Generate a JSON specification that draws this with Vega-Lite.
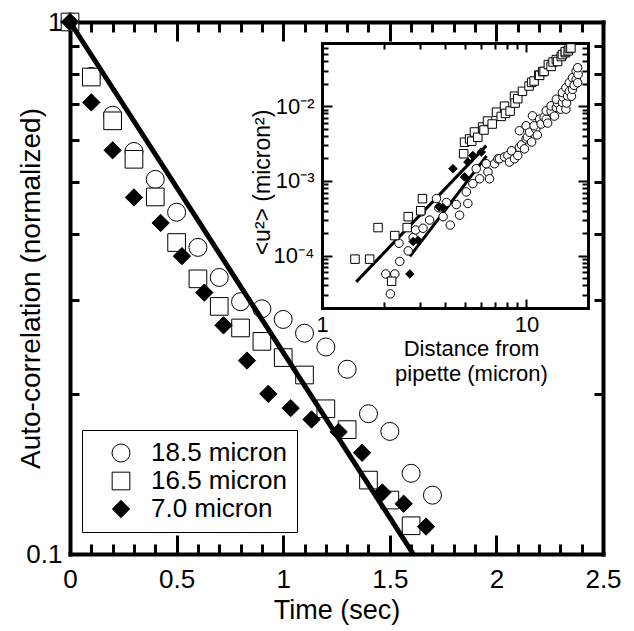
{
  "$schema": "https://vega.github.io/schema/vega-lite/v6.json",
  "width": 533,
  "height": 532,
  "autosize": "none",
  "padding": {"left": 70, "top": 22, "right": 31, "bottom": 77},
  "background": "white",
  "config": {
    "view": {"stroke": null},
    "font": "Liberation Sans",
    "axis": {
      "grid": false,
      "domainColor": "black",
      "domainWidth": 4,
      "domainCap": "square",
      "tickColor": "black",
      "tickWidth": 3,
      "labelColor": "black",
      "labelFont": "Liberation Sans",
      "labelFontSize": 26,
      "labelFlush": false,
      "labelOverlap": false,
      "titleColor": "black",
      "titleFont": "Liberation Sans",
      "titleFontSize": 27,
      "titleFontWeight": "normal"
    }
  },
  "datasets": {
    "main": [
      {"series": "18.5 micron", "t": 0, "v": 1},
      {"series": "18.5 micron", "t": 0.1, "v": 0.79},
      {"series": "18.5 micron", "t": 0.2, "v": 0.668},
      {"series": "18.5 micron", "t": 0.3, "v": 0.571},
      {"series": "18.5 micron", "t": 0.4, "v": 0.506},
      {"series": "18.5 micron", "t": 0.5, "v": 0.439},
      {"series": "18.5 micron", "t": 0.6, "v": 0.377},
      {"series": "18.5 micron", "t": 0.7, "v": 0.331},
      {"series": "18.5 micron", "t": 0.8, "v": 0.298},
      {"series": "18.5 micron", "t": 0.9, "v": 0.289},
      {"series": "18.5 micron", "t": 1.0, "v": 0.276},
      {"series": "18.5 micron", "t": 1.1, "v": 0.26},
      {"series": "18.5 micron", "t": 1.2, "v": 0.245},
      {"series": "18.5 micron", "t": 1.3, "v": 0.2225},
      {"series": "18.5 micron", "t": 1.4, "v": 0.1835},
      {"series": "18.5 micron", "t": 1.5, "v": 0.17},
      {"series": "18.5 micron", "t": 1.6, "v": 0.1418},
      {"series": "18.5 micron", "t": 1.7, "v": 0.129},
      {"series": "16.5 micron", "t": 0, "v": 1},
      {"series": "16.5 micron", "t": 0.1, "v": 0.788},
      {"series": "16.5 micron", "t": 0.2, "v": 0.652},
      {"series": "16.5 micron", "t": 0.3, "v": 0.552},
      {"series": "16.5 micron", "t": 0.4, "v": 0.469},
      {"series": "16.5 micron", "t": 0.5, "v": 0.385},
      {"series": "16.5 micron", "t": 0.6, "v": 0.329},
      {"series": "16.5 micron", "t": 0.7, "v": 0.292},
      {"series": "16.5 micron", "t": 0.8, "v": 0.266},
      {"series": "16.5 micron", "t": 0.9, "v": 0.251},
      {"series": "16.5 micron", "t": 1.0, "v": 0.234},
      {"series": "16.5 micron", "t": 1.1, "v": 0.217},
      {"series": "16.5 micron", "t": 1.2, "v": 0.1875},
      {"series": "16.5 micron", "t": 1.3, "v": 0.1713},
      {"series": "16.5 micron", "t": 1.4, "v": 0.1377},
      {"series": "16.5 micron", "t": 1.5, "v": 0.1263},
      {"series": "16.5 micron", "t": 1.6, "v": 0.113},
      {"series": "7.0 micron", "t": 0, "v": 1},
      {"series": "7.0 micron", "t": 0.1, "v": 0.706},
      {"series": "7.0 micron", "t": 0.2, "v": 0.574},
      {"series": "7.0 micron", "t": 0.3, "v": 0.468},
      {"series": "7.0 micron", "t": 0.425, "v": 0.419},
      {"series": "7.0 micron", "t": 0.525, "v": 0.363},
      {"series": "7.0 micron", "t": 0.63, "v": 0.31},
      {"series": "7.0 micron", "t": 0.72, "v": 0.269},
      {"series": "7.0 micron", "t": 0.83, "v": 0.231},
      {"series": "7.0 micron", "t": 0.93, "v": 0.2},
      {"series": "7.0 micron", "t": 1.035, "v": 0.188},
      {"series": "7.0 micron", "t": 1.133, "v": 0.179},
      {"series": "7.0 micron", "t": 1.26, "v": 0.1696},
      {"series": "7.0 micron", "t": 1.37, "v": 0.155},
      {"series": "7.0 micron", "t": 1.465, "v": 0.1305},
      {"series": "7.0 micron", "t": 1.565, "v": 0.1243},
      {"series": "7.0 micron", "t": 1.67, "v": 0.1126}
    ],
    "fit": [
      {"t": 0, "v": 1},
      {"t": 1.61, "v": 0.1}
    ],
    "inset": [
      {"series": "18.5 micron", "d": 2.16, "u": 3.09e-5},
      {"series": "18.5 micron", "d": 2.05, "u": 5.7e-5},
      {"series": "18.5 micron", "d": 2.27, "u": 5.7e-5},
      {"series": "18.5 micron", "d": 2.4, "u": 8.39e-5},
      {"series": "18.5 micron", "d": 2.64, "u": 1.16e-4},
      {"series": "18.5 micron", "d": 2.38, "u": 1.47e-4},
      {"series": "18.5 micron", "d": 2.79, "u": 1.75e-4},
      {"series": "18.5 micron", "d": 2.87, "u": 2.21e-4},
      {"series": "18.5 micron", "d": 3.12, "u": 2.33e-4},
      {"series": "18.5 micron", "d": 3.36, "u": 3.0e-4},
      {"series": "18.5 micron", "d": 3.06, "u": 3.87e-4},
      {"series": "18.5 micron", "d": 3.63, "u": 5.82e-4},
      {"series": "18.5 micron", "d": 3.73, "u": 4.38e-4},
      {"series": "18.5 micron", "d": 3.91, "u": 3.33e-4},
      {"series": "18.5 micron", "d": 4.24, "u": 2.57e-4},
      {"series": "18.5 micron", "d": 4.06, "u": 5.15e-4},
      {"series": "18.5 micron", "d": 4.54, "u": 4.84e-4},
      {"series": "18.5 micron", "d": 4.71, "u": 3.49e-4},
      {"series": "18.5 micron", "d": 5.17, "u": 5.0e-4},
      {"series": "18.5 micron", "d": 5.08, "u": 7.14e-4},
      {"series": "18.5 micron", "d": 5.47, "u": 9.21e-4},
      {"series": "18.5 micron", "d": 5.9, "u": 1.07e-3},
      {"series": "18.5 micron", "d": 5.68, "u": 1.46e-3},
      {"series": "18.5 micron", "d": 6.48, "u": 1.32e-3},
      {"series": "18.5 micron", "d": 6.6, "u": 1.07e-3},
      {"series": "18.5 micron", "d": 6.36, "u": 1.7e-3},
      {"series": "18.5 micron", "d": 6.98, "u": 1.7e-3},
      {"series": "18.5 micron", "d": 7.25, "u": 1.98e-3},
      {"series": "18.5 micron", "d": 7.38, "u": 1.98e-3},
      {"series": "18.5 micron", "d": 7.81, "u": 2.1e-3},
      {"series": "18.5 micron", "d": 8.11, "u": 2.19e-3},
      {"series": "18.5 micron", "d": 8.26, "u": 1.79e-3},
      {"series": "18.5 micron", "d": 8.45, "u": 2.53e-3},
      {"series": "18.5 micron", "d": 8.74, "u": 1.98e-3},
      {"series": "18.5 micron", "d": 9.07, "u": 2.19e-3},
      {"series": "18.5 micron", "d": 9.24, "u": 2.83e-3},
      {"series": "18.5 micron", "d": 9.46, "u": 3.03e-3},
      {"series": "18.5 micron", "d": 9.78, "u": 2.69e-3},
      {"series": "18.5 micron", "d": 9.24, "u": 4.7e-3},
      {"series": "18.5 micron", "d": 9.97, "u": 3.65e-3},
      {"series": "18.5 micron", "d": 10.1, "u": 3.87e-3},
      {"series": "18.5 micron", "d": 10.6, "u": 3.32e-3},
      {"series": "18.5 micron", "d": 9.97, "u": 5.47e-3},
      {"series": "18.5 micron", "d": 10.35, "u": 4.48e-3},
      {"series": "18.5 micron", "d": 11.1, "u": 4.95e-3},
      {"series": "18.5 micron", "d": 11.3, "u": 4.12e-3},
      {"series": "18.5 micron", "d": 10.7, "u": 7.43e-3},
      {"series": "18.5 micron", "d": 10.9, "u": 5.47e-3},
      {"series": "18.5 micron", "d": 11.6, "u": 6.72e-3},
      {"series": "18.5 micron", "d": 11.8, "u": 5.77e-3},
      {"series": "18.5 micron", "d": 12.2, "u": 7.14e-3},
      {"series": "18.5 micron", "d": 12.5, "u": 6.72e-3},
      {"series": "18.5 micron", "d": 12.7, "u": 5.94e-3},
      {"series": "18.5 micron", "d": 12.5, "u": 8.67e-3},
      {"series": "18.5 micron", "d": 13.2, "u": 8.59e-3},
      {"series": "18.5 micron", "d": 13.2, "u": 1.01e-2},
      {"series": "18.5 micron", "d": 13.7, "u": 7.37e-3},
      {"series": "18.5 micron", "d": 14.0, "u": 9.61e-3},
      {"series": "18.5 micron", "d": 14.2, "u": 1.1e-2},
      {"series": "18.5 micron", "d": 14.0, "u": 1.24e-2},
      {"series": "18.5 micron", "d": 14.7, "u": 9.12e-3},
      {"series": "18.5 micron", "d": 15.0, "u": 1.12e-2},
      {"series": "18.5 micron", "d": 15.1, "u": 1.32e-2},
      {"series": "18.5 micron", "d": 15.0, "u": 1.52e-2},
      {"series": "18.5 micron", "d": 15.6, "u": 9.12e-3},
      {"series": "18.5 micron", "d": 15.7, "u": 1.1e-2},
      {"series": "18.5 micron", "d": 15.6, "u": 1.77e-2},
      {"series": "18.5 micron", "d": 15.9, "u": 1.37e-2},
      {"series": "18.5 micron", "d": 16.2, "u": 1.58e-2},
      {"series": "18.5 micron", "d": 16.2, "u": 2.06e-2},
      {"series": "18.5 micron", "d": 16.6, "u": 1.36e-2},
      {"series": "18.5 micron", "d": 16.8, "u": 1.68e-2},
      {"series": "18.5 micron", "d": 16.8, "u": 2.4e-2},
      {"series": "18.5 micron", "d": 17.1, "u": 1.9e-2},
      {"series": "18.5 micron", "d": 17.5, "u": 2.28e-2},
      {"series": "18.5 micron", "d": 17.5, "u": 2.94e-2},
      {"series": "18.5 micron", "d": 17.8, "u": 2.06e-2},
      {"series": "18.5 micron", "d": 17.9, "u": 2.66e-2},
      {"series": "18.5 micron", "d": 17.8, "u": 3.27e-2},
      {"series": "16.5 micron", "d": 1.45, "u": 9.0e-5},
      {"series": "16.5 micron", "d": 1.71, "u": 9.0e-5},
      {"series": "16.5 micron", "d": 1.88, "u": 2.38e-4},
      {"series": "16.5 micron", "d": 2.19, "u": 4.56e-5},
      {"series": "16.5 micron", "d": 2.27, "u": 1.86e-4},
      {"series": "16.5 micron", "d": 2.61, "u": 2.38e-4},
      {"series": "16.5 micron", "d": 2.64, "u": 3.33e-4},
      {"series": "16.5 micron", "d": 3.04, "u": 4.0e-4},
      {"series": "16.5 micron", "d": 3.1, "u": 5.8e-4},
      {"series": "16.5 micron", "d": 4.93, "u": 2.31e-3},
      {"series": "16.5 micron", "d": 4.98, "u": 3.3e-3},
      {"series": "16.5 micron", "d": 5.27, "u": 3.65e-3},
      {"series": "16.5 micron", "d": 5.4, "u": 3.4e-3},
      {"series": "16.5 micron", "d": 5.57, "u": 4.52e-3},
      {"series": "16.5 micron", "d": 5.78, "u": 3.84e-3},
      {"series": "16.5 micron", "d": 6.1, "u": 5.26e-3},
      {"series": "16.5 micron", "d": 6.2, "u": 4.8e-3},
      {"series": "16.5 micron", "d": 6.45, "u": 6.33e-3},
      {"series": "16.5 micron", "d": 6.8, "u": 5.77e-3},
      {"series": "16.5 micron", "d": 7.14, "u": 8.32e-3},
      {"series": "16.5 micron", "d": 7.53, "u": 7.3e-3},
      {"series": "16.5 micron", "d": 7.81, "u": 1.0e-2},
      {"series": "16.5 micron", "d": 7.9, "u": 8.0e-3},
      {"series": "16.5 micron", "d": 8.32, "u": 8.6e-3},
      {"series": "16.5 micron", "d": 8.74, "u": 1.36e-2},
      {"series": "16.5 micron", "d": 8.8, "u": 1.1e-2},
      {"series": "16.5 micron", "d": 9.07, "u": 1.26e-2},
      {"series": "16.5 micron", "d": 9.56, "u": 1.58e-2},
      {"series": "16.5 micron", "d": 10.3, "u": 1.86e-2},
      {"series": "16.5 micron", "d": 10.6, "u": 2.08e-2},
      {"series": "16.5 micron", "d": 10.9, "u": 2.17e-2},
      {"series": "16.5 micron", "d": 11.5, "u": 2.6e-2},
      {"series": "16.5 micron", "d": 11.6, "u": 2.58e-2},
      {"series": "16.5 micron", "d": 12.0, "u": 2.9e-2},
      {"series": "16.5 micron", "d": 12.2, "u": 2.92e-2},
      {"series": "16.5 micron", "d": 12.8, "u": 3.6e-2},
      {"series": "16.5 micron", "d": 13.2, "u": 3.4e-2},
      {"series": "16.5 micron", "d": 13.5, "u": 3.9e-2},
      {"series": "16.5 micron", "d": 14.0, "u": 4.2e-2},
      {"series": "16.5 micron", "d": 14.2, "u": 3.96e-2},
      {"series": "16.5 micron", "d": 14.8, "u": 4.61e-2},
      {"series": "16.5 micron", "d": 15.0, "u": 4.9e-2},
      {"series": "16.5 micron", "d": 15.5, "u": 5.2e-2},
      {"series": "16.5 micron", "d": 15.5, "u": 5.37e-2},
      {"series": "16.5 micron", "d": 16.0, "u": 5.5e-2},
      {"series": "16.5 micron", "d": 16.2, "u": 5.89e-2},
      {"series": "16.5 micron", "d": 16.5, "u": 6.0e-2},
      {"series": "7.0 micron", "d": 2.69, "u": 5.7e-5},
      {"series": "7.0 micron", "d": 2.79, "u": 1.55e-4},
      {"series": "7.0 micron", "d": 2.95, "u": 1.6e-4},
      {"series": "7.0 micron", "d": 3.91, "u": 4.38e-4},
      {"series": "7.0 micron", "d": 3.75, "u": 4.5e-4},
      {"series": "7.0 micron", "d": 4.37, "u": 1.46e-3},
      {"series": "7.0 micron", "d": 4.98, "u": 1.13e-3},
      {"series": "7.0 micron", "d": 5.17, "u": 1.79e-3},
      {"series": "7.0 micron", "d": 5.47, "u": 2.19e-3},
      {"series": "7.0 micron", "d": 6.01, "u": 2.43e-3}
    ],
    "insetfit": [
      {"line": "a", "d": 1.47, "u": 4.47e-5},
      {"line": "a", "d": 6.36, "u": 2.97e-3},
      {"line": "b", "d": 2.69, "u": 9.8e-5},
      {"line": "b", "d": 6.38, "u": 2.17e-3}
    ]
  },
  "layer": [
    {
      "data": {"name": "main"},
      "mark": {"type": "point", "filled": true, "stroke": "black", "strokeWidth": 1, "opacity": 1},
      "encoding": {
        "x": {"field": "t", "type": "quantitative", "scale": {"domain": [0, 2.5], "nice": false, "zero": false}, "axis": null},
        "y": {"field": "v", "type": "quantitative", "scale": {"type": "log", "domain": [0.1, 1], "nice": false}, "axis": null},
        "shape": {"field": "series", "type": "nominal", "sort": null,
          "scale": {"domain": ["18.5 micron", "16.5 micron", "7.0 micron"], "range": ["circle", "square", "diamond"]},
          "legend": {
            "orient": "none", "legendX": 12, "legendY": 408, "title": null,
            "padding": 10, "symbolOffset": 16, "labelOffset": 17, "rowPadding": 2,
            "strokeColor": "black", "fillColor": "white",
            "labelFont": "Liberation Sans", "labelFontSize": 26, "labelColor": "black",
            "symbolStrokeColor": "black", "symbolStrokeWidth": 1
          }},
        "fill": {"field": "series", "type": "nominal", "sort": null,
          "scale": {"domain": ["18.5 micron", "16.5 micron", "7.0 micron"], "range": ["white", "white", "black"]}},
        "size": {"field": "series", "type": "nominal", "sort": null,
          "scale": {"domain": ["18.5 micron", "16.5 micron", "7.0 micron"], "range": [324, 300, 400]}}
      }
    },
    {
      "data": {"name": "fit"},
      "mark": {"type": "line", "color": "black", "strokeWidth": 5},
      "encoding": {
        "x": {"field": "t", "type": "quantitative", "scale": {"domain": [0, 2.5], "nice": false, "zero": false}, "axis": null},
        "y": {"field": "v", "type": "quantitative", "scale": {"type": "log", "domain": [0.1, 1], "nice": false}, "axis": null}
      }
    },
    {
      "data": {"name": "fit"},
      "mark": {"type": "point", "opacity": 0},
      "encoding": {
        "x": {"field": "t", "type": "quantitative", "scale": {"domain": [0, 2.5], "nice": false, "zero": false},
          "axis": {"orient": "bottom", "values": [0, 0.5, 1, 1.5, 2, 2.5], "format": "~g", "ticks": false, "domain": false, "labelPadding": 12,
            "title": "Time (sec)", "titleX": 266.5, "titleY": 64, "titleBaseline": "alphabetic", "titleAlign": "center"}},
        "y": {"field": "v", "type": "quantitative", "scale": {"type": "log", "domain": [0.1, 1], "nice": false},
          "axis": {"orient": "left", "values": [0.1, 1], "format": "~g", "ticks": false, "domain": false, "labelPadding": 8,
            "title": "Auto-correlation (normalized)", "titleFontSize": 28, "titleX": -39, "titleY": 266, "titleBaseline": "middle", "titleAlign": "center", "titleAngle": 270}}
      }
    },
    {
      "data": {"name": "fit"},
      "mark": {"type": "point", "opacity": 0},
      "encoding": {
        "x": {"field": "t", "type": "quantitative", "scale": {"domain": [0, 2.5], "nice": false, "zero": false},
          "axis": {"orient": "bottom", "values": [0, 0.5, 1, 1.5, 2, 2.5], "labels": false, "tickSize": -19, "title": null}},
        "y": {"field": "v", "type": "quantitative", "scale": {"type": "log", "domain": [0.1, 1], "nice": false},
          "axis": {"orient": "left", "values": [0.2, 0.3, 0.4, 0.5, 0.6, 0.7, 0.8, 0.9], "labels": false, "tickSize": -9, "title": null}}
      }
    },
    {
      "data": {"name": "fit"},
      "mark": {"type": "point", "opacity": 0},
      "encoding": {
        "x": {"field": "t", "type": "quantitative", "scale": {"domain": [0, 2.5], "nice": false, "zero": false},
          "axis": {"orient": "bottom", "values": [0.1, 0.2, 0.3, 0.4, 0.6, 0.7, 0.8, 0.9, 1.1, 1.2, 1.3, 1.4, 1.6, 1.7, 1.8, 1.9, 2.1, 2.2, 2.3, 2.4], "labels": false, "domain": false, "tickSize": -10, "title": null}},
        "y": {"field": "v", "type": "quantitative", "scale": {"type": "log", "domain": [0.1, 1], "nice": false},
          "axis": {"orient": "right", "values": [0.2, 0.3, 0.4, 0.5, 0.6, 0.7, 0.8, 0.9], "labels": false, "tickSize": -9, "title": null}}
      }
    },
    {
      "data": {"name": "fit"},
      "mark": {"type": "point", "opacity": 0},
      "encoding": {
        "x": {"field": "t", "type": "quantitative", "scale": {"domain": [0, 2.5], "nice": false, "zero": false},
          "axis": {"orient": "top", "values": [0, 0.5, 1, 1.5, 2, 2.5], "labels": false, "tickSize": -19, "title": null}},
        "y": {"field": "v", "type": "quantitative", "scale": {"type": "log", "domain": [0.1, 1], "nice": false}, "axis": null}
      }
    },
    {
      "data": {"name": "fit"},
      "mark": {"type": "point", "opacity": 0},
      "encoding": {
        "x": {"field": "t", "type": "quantitative", "scale": {"domain": [0, 2.5], "nice": false, "zero": false},
          "axis": {"orient": "top", "values": [0.1, 0.2, 0.3, 0.4, 0.6, 0.7, 0.8, 0.9, 1.1, 1.2, 1.3, 1.4, 1.6, 1.7, 1.8, 1.9, 2.1, 2.2, 2.3, 2.4], "labels": false, "domain": false, "tickSize": -10, "title": null}},
        "y": {"field": "v", "type": "quantitative", "scale": {"type": "log", "domain": [0.1, 1], "nice": false}, "axis": null}
      }
    },
    {
      "data": {"name": "insetfit"},
      "mark": {"type": "line", "color": "black", "strokeWidth": 3},
      "encoding": {
        "x": {"field": "d", "type": "quantitative", "scale": {"type": "log", "domain": [1, 20], "range": [252, 518], "nice": false}, "axis": null},
        "y": {"field": "u", "type": "quantitative", "scale": {"type": "log", "domain": [2e-5, 0.07], "range": [286, 21], "nice": false}, "axis": null},
        "detail": {"field": "line", "type": "nominal"}
      }
    },
    {
      "data": {"name": "inset"},
      "mark": {"type": "point", "filled": true, "stroke": "black", "strokeWidth": 1, "opacity": 1, "size": 72},
      "encoding": {
        "x": {"field": "d", "type": "quantitative", "scale": {"type": "log", "domain": [1, 20], "range": [252, 518], "nice": false}, "axis": null},
        "y": {"field": "u", "type": "quantitative", "scale": {"type": "log", "domain": [2e-5, 0.07], "range": [286, 21], "nice": false}, "axis": null},
        "shape": {"field": "series", "type": "nominal", "sort": null,
          "scale": {"domain": ["18.5 micron", "16.5 micron", "7.0 micron"], "range": ["circle", "square", "diamond"]}},
        "fill": {"field": "series", "type": "nominal", "sort": null,
          "scale": {"domain": ["18.5 micron", "16.5 micron", "7.0 micron"], "range": ["white", "white", "black"]}}
      }
    },
    {
      "data": {"name": "insetfit"},
      "mark": {"type": "point", "opacity": 0},
      "encoding": {
        "x": {"field": "d", "type": "quantitative", "scale": {"type": "log", "domain": [1, 20], "range": [252, 518], "nice": false},
          "axis": {"orient": "bottom", "offset": -246, "values": [1, 10], "format": "~g", "ticks": false, "domain": false, "labelPadding": 6, "labelFontSize": 22,
            "title": ["Distance from", "pipette (micron)"], "titleFontSize": 22, "titleLineHeight": 25, "titleX": 401, "titleY": 47, "titleBaseline": "alphabetic", "titleAlign": "center"}},
        "y": {"field": "u", "type": "quantitative", "scale": {"type": "log", "domain": [2e-5, 0.07], "range": [286, 21], "nice": false},
          "axis": {"orient": "left", "offset": -252, "values": [0.0001, 0.001, 0.01], "ticks": false, "domain": false, "labelPadding": 8, "labelFontSize": 22,
            "labelExpr": "datum.value < 0.0005 ? '10⁻⁴' : datum.value < 0.005 ? '10⁻³' : '10⁻²'",
            "title": "<u²> (micron²)", "titleFontSize": 23, "titleX": -60, "titleY": 160, "titleBaseline": "middle", "titleAlign": "center", "titleAngle": 270}}
      }
    },
    {
      "data": {"name": "insetfit"},
      "mark": {"type": "point", "opacity": 0},
      "encoding": {
        "x": {"field": "d", "type": "quantitative", "scale": {"type": "log", "domain": [1, 20], "range": [252, 518], "nice": false},
          "axis": {"orient": "bottom", "offset": -246, "values": [1, 10], "labels": false, "domainWidth": 3, "tickWidth": 2, "tickSize": -9, "title": null}},
        "y": {"field": "u", "type": "quantitative", "scale": {"type": "log", "domain": [2e-5, 0.07], "range": [286, 21], "nice": false},
          "axis": {"orient": "left", "offset": -252, "values": [0.0001, 0.001, 0.01], "labels": false, "domainWidth": 3, "tickWidth": 2, "tickSize": -10, "title": null}}
      }
    },
    {
      "data": {"name": "insetfit"},
      "mark": {"type": "point", "opacity": 0},
      "encoding": {
        "x": {"field": "d", "type": "quantitative", "scale": {"type": "log", "domain": [1, 20], "range": [252, 518], "nice": false},
          "axis": {"orient": "bottom", "offset": -246, "values": [2, 3, 4, 5, 6, 7, 8, 9], "labels": false, "domain": false, "tickWidth": 2, "tickSize": -6, "title": null}},
        "y": {"field": "u", "type": "quantitative", "scale": {"type": "log", "domain": [2e-5, 0.07], "range": [286, 21], "nice": false},
          "axis": {"orient": "left", "offset": -252, "values": [3e-5, 4e-5, 5e-5, 6e-5, 7e-5, 8e-5, 9e-5, 2e-4, 3e-4, 4e-4, 5e-4, 6e-4, 7e-4, 8e-4, 9e-4, 2e-3, 3e-3, 4e-3, 5e-3, 6e-3, 7e-3, 8e-3, 9e-3, 2e-2, 3e-2, 4e-2, 5e-2, 6e-2], "labels": false, "domain": false, "tickWidth": 2, "tickSize": -6, "title": null}}
      }
    },
    {
      "data": {"name": "insetfit"},
      "mark": {"type": "point", "opacity": 0},
      "encoding": {
        "x": {"field": "d", "type": "quantitative", "scale": {"type": "log", "domain": [1, 20], "range": [252, 518], "nice": false},
          "axis": {"orient": "top", "offset": -21, "values": [1, 10], "labels": false, "domainWidth": 3, "tickWidth": 2, "tickSize": -9, "title": null}},
        "y": {"field": "u", "type": "quantitative", "scale": {"type": "log", "domain": [2e-5, 0.07], "range": [286, 21], "nice": false},
          "axis": {"orient": "right", "offset": -15, "values": [0.0001, 0.001, 0.01], "labels": false, "domainWidth": 3, "tickWidth": 2, "tickSize": -10, "title": null}}
      }
    },
    {
      "data": {"name": "insetfit"},
      "mark": {"type": "point", "opacity": 0},
      "encoding": {
        "x": {"field": "d", "type": "quantitative", "scale": {"type": "log", "domain": [1, 20], "range": [252, 518], "nice": false},
          "axis": {"orient": "top", "offset": -21, "values": [2, 3, 4, 5, 6, 7, 8, 9], "labels": false, "domain": false, "tickWidth": 2, "tickSize": -6, "title": null}},
        "y": {"field": "u", "type": "quantitative", "scale": {"type": "log", "domain": [2e-5, 0.07], "range": [286, 21], "nice": false},
          "axis": {"orient": "right", "offset": -15, "values": [3e-5, 4e-5, 5e-5, 6e-5, 7e-5, 8e-5, 9e-5, 2e-4, 3e-4, 4e-4, 5e-4, 6e-4, 7e-4, 8e-4, 9e-4, 2e-3, 3e-3, 4e-3, 5e-3, 6e-3, 7e-3, 8e-3, 9e-3, 2e-2, 3e-2, 4e-2, 5e-2, 6e-2], "labels": false, "domain": false, "tickWidth": 2, "tickSize": -6, "title": null}}
      }
    }
  ],
  "resolve": {
    "scale": {"x": "independent", "y": "independent"},
    "axis": {"x": "independent", "y": "independent"}
  }
}
